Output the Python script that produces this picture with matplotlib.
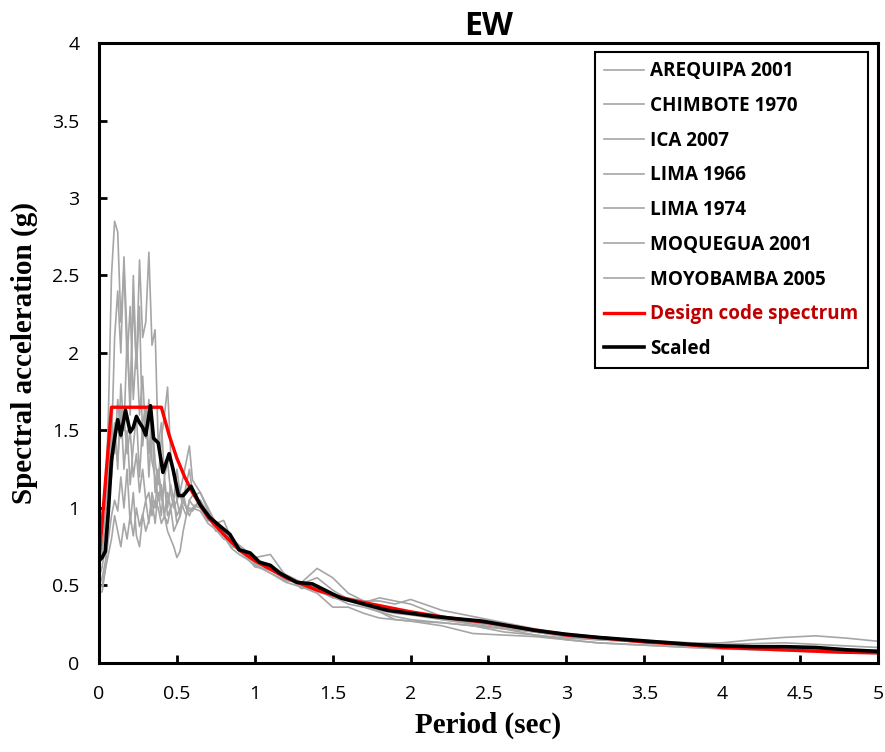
import numpy as np
import matplotlib
matplotlib.use("Agg")
import matplotlib.pyplot as plt
from matplotlib.ticker import FuncFormatter

# record names shown in the legend
records = ["AREQUIPA 2001", "CHIMBOTE 1970", "ICA 2007", "LIMA 1966",
           "LIMA 1974", "MOQUEGUA 2001", "MOYOBAMBA 2005"]

# periods (sec) used for the recorded spectra
T_rec = [0, .02, .04, .06, .08, .10, .12, .14, .16, .18, .20, .22, .24, .26, .28, .30,
         .32, .34, .36, .38, .40, .42, .44, .46, .48, .50, .52, .54, .56, .58, .60,
         .65, .70, .75, .80, .85, .90, .95, 1.0,
         1.1, 1.2, 1.3, 1.4, 1.5, 1.6, 1.7, 1.8, 1.9, 2.0,
         2.2, 2.4, 2.6, 2.8, 3.0, 3.2, 3.4, 3.6, 3.8, 4.0, 4.2, 4.4, 4.6, 4.8, 5.0]

sa_arequipa = [0.62, 0.70, 0.95, 1.60, 2.50, 2.85, 2.78, 2.20, 2.55, 1.95, 2.30, 1.70, 2.05, 1.60, 1.85, 1.45,
               1.70, 1.30, 1.20, 1.05, 1.15, 0.95, 1.10, 1.00, 1.05, 0.95, 1.00, 1.05, 1.00, 0.98, 1.00,
               .98, .90, .86, .80, .78, .72, .70, .66,
               .62, .55, .50, .47, .42, .40, .37, .33, .30, .28,
               .26, .24, .22, .20, .18, .16, .14, .13, .12, .11, .10, .09, .085, .08, .075]
sa_chimbote = [0.45, 0.46, 0.60, 0.90, 1.40, 2.10, 2.40, 2.00, 2.62, 2.10, 1.60, 2.50, 1.90, 2.30, 1.40, 1.65,
               1.20, 1.55, 1.10, 1.25, 1.05, 1.15, 0.95, 1.00, 1.05, 0.90, 0.95, 1.05, 1.00, 1.00, 0.98,
               1.05, .95, .85, .85, .75, .74, .70, .68,
               .70, .56, .48, .50, .43, .42, .40, .40, .38, .41,
               .34, .30, .26, .22, .19, .17, .15, .14, .13, .12, .11, .10, .09, .085, .08]
sa_ica = [0.55, 0.62, 0.75, 1.00, 1.30, 1.55, 1.25, 1.80, 1.50, 2.10, 1.70, 2.35, 1.90, 2.60, 2.10, 2.20,
          2.65, 2.05, 2.15, 1.40, 1.55, 1.20, 1.30, 1.10, 1.00, 1.05, 1.10, 1.00, 0.95, 1.05, 1.02,
          1.00, .92, .90, .92, .80, .76, .72, .64,
          .58, .53, .52, .61, .55, .45, .40, .36, .34, .32,
          .28, .25, .22, .18, .16, .15, .14, .13, .125, .12, .125, .13, .12, .11, .10]
sa_lima66 = [0.70, 0.75, 0.85, 1.05, 1.20, 1.45, 1.30, 1.65, 1.25, 1.50, 1.15, 1.40, 1.60, 1.20, 1.55, 1.65,
             1.35, 1.60, 1.30, 1.15, 1.45, 1.60, 1.78, 1.35, 1.20, 1.05, 0.95, 1.10, 1.00, 0.95, 1.00,
             1.05, .96, .88, .82, .77, .72, .68, .65,
             .60, .54, .50, .46, .43, .38, .36, .33, .28, .27,
             .26, .24, .20, .18, .15, .13, .12, .11, .10, .09, .085, .08, .07, .065, .06]
sa_lima74 = [0.48, 0.50, 0.60, 0.70, 0.80, 0.95, 0.85, 0.75, 0.90, 0.80, 0.95, 0.82, 1.00, 0.88, 0.96, 0.85,
             0.92, 1.05, 0.90, 1.10, 0.95, 1.20, 1.00, 1.15, 1.05, 1.25, 1.10, 1.20, 1.30, 1.40, 1.18,
             1.10, 1.00, .90, .84, .78, .74, .70, .67,
             .63, .57, .52, .48, .44, .41, .39, .42, .40, .38,
             .30, .27, .23, .20, .17, .15, .14, .13, .125, .13, .15, .165, .175, .16, .14]
sa_moquegua = [0.50, 0.55, 0.65, 0.80, 0.95, 1.05, 0.98, 1.20, 1.00, 1.25, 0.90, 1.10, 0.82, 0.75, 0.95, 1.05,
               0.90, 1.10, 1.00, 1.25, 1.10, 0.95, 0.90, 1.00, 0.85, 0.90, 0.95, 1.05, 1.15, 1.25, 1.10,
               1.00, .94, .88, .82, .74, .70, .67, .63,
               .58, .52, .49, .45, .36, .36, .32, .29, .28, .27,
               .24, .19, .18, .17, .15, .13, .12, .11, .10, .095, .09, .085, .08, .075, .07]
sa_moyobamba = [0.80, 0.85, 0.95, 1.20, 1.55, 1.35, 1.70, 1.45, 1.60, 1.35, 1.50, 1.20, 1.35, 1.10, 1.25, 1.05,
                1.10, 0.95, 1.05, 1.00, 0.90, 0.95, 0.85, 0.80, 0.75, 0.68, 0.72, 0.85, 0.95, 1.05, 1.08,
                1.10, .98, .90, .84, .80, .75, .68, .62,
                .60, .55, .51, .55, .47, .41, .38, .34, .32, .31,
                .28, .26, .23, .20, .17, .155, .145, .13, .12, .11, .10, .095, .09, .085, .08]

# design code spectrum
T_design = [0, 0.08, 0.4, 0.45, 0.5, 0.55, 0.6, 0.7, 0.8, 0.9, 1.0, 1.2, 1.4, 1.6, 1.8, 2.0,
            2.25, 2.5, 2.75, 3.0, 3.25, 3.5, 3.75, 4.0, 4.25, 4.5, 4.75, 5.0]
sa_design = [0.66, 1.65, 1.65, 1.47, 1.32, 1.2, 1.1, 0.94, 0.83, 0.73, 0.66, 0.55, 0.47, 0.41, 0.37, 0.33,
             0.29, 0.26, 0.22, 0.18, 0.16, 0.135, 0.12, 0.1, 0.09, 0.08, 0.07, 0.065]

# scaled mean spectrum
T_scaled = [0, 0.02, 0.04, 0.06, 0.08, 0.10, 0.12, 0.14, 0.17, 0.20, 0.22, 0.24, 0.26, 0.28, 0.30,
            0.33, 0.35, 0.38, 0.41, 0.45, 0.475, 0.51, 0.54, 0.59, 0.65, 0.71, 0.78, 0.84, 0.9, 0.97,
            1.03, 1.1, 1.16, 1.27, 1.37, 1.45, 1.55, 1.7, 1.85, 2.0, 2.15, 2.3, 2.46, 2.6, 2.8, 3.0,
            3.2, 3.4, 3.6, 3.8, 4.0, 4.2, 4.4, 4.6, 4.8, 5.0]
sa_scaled = [0.66, 0.68, 0.72, 0.98, 1.31, 1.45, 1.57, 1.47, 1.63, 1.49, 1.52, 1.59, 1.55, 1.52, 1.47,
             1.66, 1.45, 1.42, 1.23, 1.35, 1.25, 1.08, 1.08, 1.14, 1.02, 0.94, 0.88, 0.83, 0.73, 0.71,
             0.65, 0.63, 0.58, 0.52, 0.51, 0.47, 0.42, 0.38, 0.34, 0.32, 0.30, 0.285, 0.27, 0.245, 0.21, 0.185,
             0.165, 0.15, 0.135, 0.12, 0.11, 0.105, 0.105, 0.1, 0.085, 0.075]

rec_values = [sa_arequipa, sa_chimbote, sa_ica, sa_lima66, sa_lima74, sa_moquegua, sa_moyobamba]

fig = plt.figure(figsize=(8.85, 7.52), dpi=100)
ax = fig.add_axes([0.1119, 0.1184, 0.8801, 0.8244])

for name, vals in zip(records, rec_values):
    ax.plot(T_rec, vals, color="#a6a6a6", lw=1.2, label=name)
ax.plot(T_design, sa_design, color="#ff0000", lw=2.4, label="Design code spectrum")
ax.plot(T_scaled, sa_scaled, color="black", lw=2.6, label="Scaled")

ax.set_xlim(0, 5)
ax.set_ylim(0, 4)
ax.set_xticks(np.arange(0, 5.01, 0.5))
ax.set_yticks(np.arange(0, 4.01, 0.5))
fmt = FuncFormatter(lambda v, p: "%g" % v)
ax.xaxis.set_major_formatter(fmt)
ax.yaxis.set_major_formatter(fmt)

tickfont = ["Open Sans", "DejaVu Sans"]
for lab in ax.get_xticklabels() + ax.get_yticklabels():
    lab.set_family(tickfont)
    lab.set_fontsize(14)
ax.tick_params(axis="both", direction="in", length=6, width=2)
ax.tick_params(axis="x", pad=16)
ax.tick_params(axis="y", pad=14)
for s in ax.spines.values():
    s.set_linewidth(2.2)

ax.set_title("EW", fontsize=23, fontweight="bold", family=["Open Sans", "DejaVu Sans"], pad=5)
ax.set_xlabel("Period (sec)", fontsize=21, fontweight="bold", family=["Liberation Serif"], labelpad=6)
ax.set_ylabel("Spectral acceleration (g)", fontsize=21, fontweight="bold", family=["Liberation Serif"], labelpad=10)

leg = ax.legend(loc="upper right", bbox_to_anchor=(0.987, 0.986), borderaxespad=0,
                fancybox=False, framealpha=1, edgecolor="black",
                handlelength=2.1, handletextpad=0.35, labelspacing=0.78, borderpad=0.5,
                prop={"family": ["Open Sans", "DejaVu Sans"], "weight": "bold", "size": 13.6})
leg.get_frame().set_linewidth(1.5)
leg.get_texts()[7].set_color("#c00000")

fig.savefig("out.png", dpi=100)
